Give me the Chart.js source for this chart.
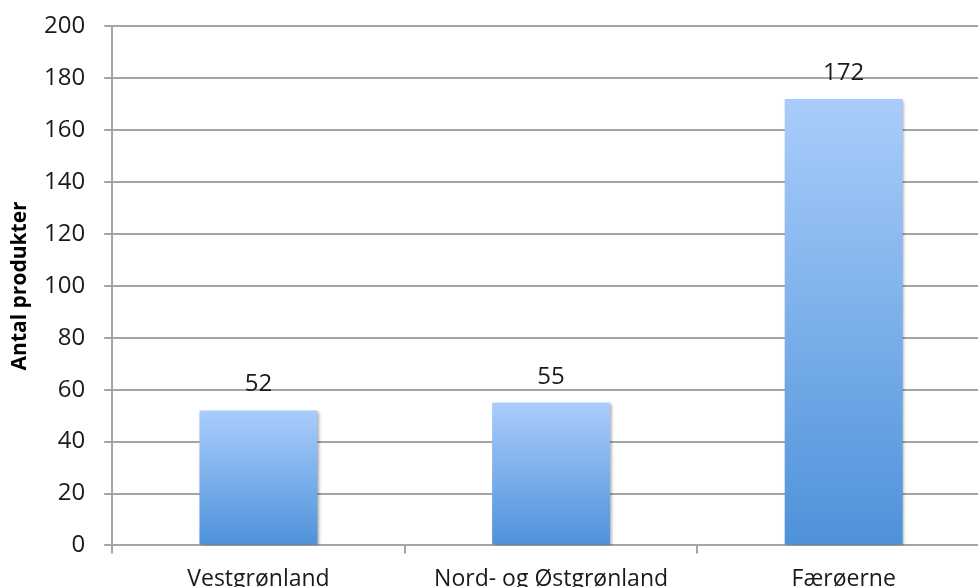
<!DOCTYPE html>
<html>
<head>
<meta charset="utf-8">
<script src="https://cdn.jsdelivr.net/npm/chart.js@4.4.1/dist/chart.umd.min.js"></script>
<style>
  html, body { margin: 0; padding: 0; background: #fff; overflow: hidden; }
  #wrap { position: relative; top: -7px; width: 990px; height: 612px; }
</style>
</head>
<body>
<div id="wrap"><canvas id="chart" width="990" height="612"></canvas></div>
<script>
const categories = ['Vestgrønland', 'Nord- og Østgrønland', 'Færøerne'];
const values = [52, 55, 172];
const yMin = 0, yMax = 200, yStep = 20;
const yTitle = 'Antal produkter';

const FONT = "'Open Sans', sans-serif";

// one gradient per bar, from its top down to the baseline
function barGradient(ctx) {
  const chart = ctx.chart;
  const y = chart.scales.y;
  if (!chart.chartArea || !y || ctx.type !== 'data') return '#7fb0ea';
  const top = y.getPixelForValue(values[ctx.dataIndex]);
  const bottom = y.getPixelForValue(0);
  if (!isFinite(top) || !isFinite(bottom)) return '#7fb0ea';
  const g = chart.ctx.createLinearGradient(0, top, 0, bottom);
  g.addColorStop(0, '#a9cdfb');
  g.addColorStop(1, '#4e92da');
  return g;
}

// soft drop shadow under the bars, like the office chart
const barShadow = {
  id: 'barShadow',
  beforeDatasetsDraw(chart) {
    const c = chart.ctx;
    c.save();
    c.shadowColor = 'rgba(0,0,0,0.35)';
    c.shadowBlur = 3;
    c.shadowOffsetX = 1.5;
    c.shadowOffsetY = 1.5;
  },
  afterDatasetsDraw(chart) {
    chart.ctx.restore();
  }
};

const valueLabels = {
  id: 'valueLabels',
  afterDatasetsDraw(chart) {
    const c = chart.ctx;
    const meta = chart.getDatasetMeta(0);
    c.save();
    c.font = '24px ' + FONT;
    c.fillStyle = '#1a1a1a';
    c.textAlign = 'center';
    c.textBaseline = 'alphabetic';
    meta.data.forEach((bar, i) => {
      c.fillText(String(values[i]), bar.x, bar.y - 19);
    });
    c.restore();
  }
};

const chart = new Chart(document.getElementById('chart'), {
  type: 'bar',
  data: {
    labels: categories,
    datasets: [{
      data: values,
      backgroundColor: barGradient,
      borderWidth: 0,
      barPercentage: 0.403,
      categoryPercentage: 1
    }]
  },
  options: {
    responsive: false,
    animation: false,
    layout: { padding: { top: 0, right: 0, bottom: 0, left: 0 } },
    plugins: { legend: { display: false }, tooltip: { enabled: false } },
    scales: {
      x: {
        grid: { display: true, drawOnChartArea: false, color: '#a5a5a5', lineWidth: 2, tickLength: 8, offset: true },
        border: { display: true, color: '#a5a5a5', width: 2 },
        ticks: { color: '#1a1a1a', font: { family: FONT, size: 23 }, padding: 12 }
      },
      y: {
        min: yMin,
        max: yMax,
        ticks: { stepSize: yStep, color: '#1a1a1a', font: { family: FONT, size: 24 }, padding: 19 },
        grid: { color: '#a5a5a5', lineWidth: 2, tickLength: 8 },
        border: { display: true, color: '#a5a5a5', width: 2 },
        title: { display: true, text: yTitle, color: '#000', font: { family: FONT, size: 21, weight: 'bold', lineHeight: 1 }, padding: { top: 10, bottom: -6 } }
      }
    }
  },
  plugins: [barShadow, valueLabels]
});
chart.update();
</script>
</body>
</html>
